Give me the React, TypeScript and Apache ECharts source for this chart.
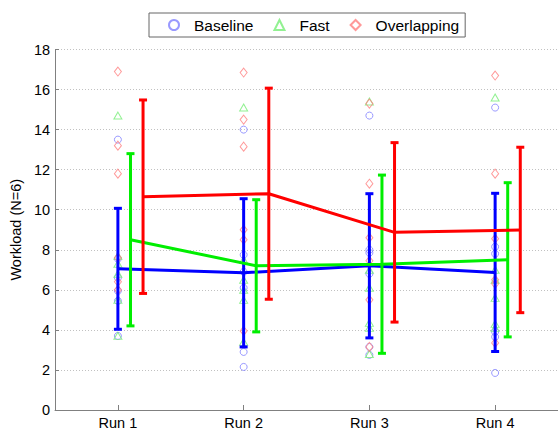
import React, { useEffect, useRef } from "react";
import * as echarts from "echarts";

const runs = ["Run 1", "Run 2", "Run 3", "Run 4"];
const seriesNames = ["Baseline", "Fast", "Overlapping"];

// individual subject values (N=6) per run
const baselinePoints = [
  [13.5, 7.55, 6.6, 5.95, 5.45, 3.7],
  [14.0, 7.75, 6.9, 6.1, 2.9, 2.15],
  [14.7, 8.0, 7.85, 6.8, 3.15, 2.75],
  [15.1, 8.15, 7.8, 3.9, 3.65, 1.85],
];
const fastPoints = [
  [14.7, 7.7, 7.3, 6.8, 5.5, 3.7],
  [15.1, 7.5, 6.5, 6.0, 5.5, 3.4],
  [15.4, 7.0, 6.1, 4.35, 4.1, 2.8],
  [15.6, 7.0, 6.5, 5.6, 4.3, 4.1],
];
const overlapPoints = [
  [16.9, 13.2, 11.8, 7.6, 6.4, 6.0],
  [16.85, 14.5, 13.15, 9.0, 8.5, 3.95],
  [15.3, 11.3, 8.6, 7.45, 5.5, 3.15],
  [16.7, 11.8, 8.55, 6.5, 6.3, 3.35],
];

// means and standard deviations
const baselineMean = [7.05, 6.85, 7.2, 6.87];
const baselineSd = [3.02, 3.7, 3.6, 3.95];
const fastMean = [8.5, 7.2, 7.28, 7.5];
const fastSd = [4.3, 3.3, 4.45, 3.85];
const overlapMean = [10.65, 10.8, 8.87, 8.99];
const overlapSd = [4.83, 5.27, 4.48, 4.13];

const offsets = [0, 0.1, 0.2];
const lineColors = ["#0000ff", "#00ee00", "#ff0000"];
const markerColors = ["#8080ff", "#77ee77", "#ff8080"];
const markerSymbols = ["circle", "triangle", "diamond"];
const markerSizes: any[] = [7, [8, 7], [7, 9]];

const FONT = "Liberation Sans, Arial, Helvetica, sans-serif";

export default function App() {
  const ref = useRef<HTMLDivElement>(null);
  useEffect(() => {
    if (!ref.current) return;
    const chart = echarts.init(ref.current, undefined, { renderer: "svg" });
    const allPoints = [baselinePoints, fastPoints, overlapPoints];
    const means = [baselineMean, fastMean, overlapMean];
    const sds = [baselineSd, fastSd, overlapSd];

    const series: any[] = [];
    seriesNames.forEach((name, i) => {
      const pts: number[][] = [];
      allPoints[i].forEach((vals, r) => vals.forEach((v) => pts.push([r + 1, v])));
      series.push({
        name,
        type: "scatter",
        xAxisIndex: 1,
        symbol: markerSymbols[i],
        symbolSize: markerSizes[i],
        itemStyle: { color: "rgba(0,0,0,0)", borderColor: markerColors[i], borderWidth: 1 },
        data: pts,
        z: 1,
      });
    });
    seriesNames.forEach((name, i) => {
      series.push({
        name: name + " mean",
        type: "line",
        xAxisIndex: 1,
        symbol: "none",
        lineStyle: { color: lineColors[i], width: 3 },
        itemStyle: { color: lineColors[i] },
        data: means[i].map((m, r) => [r + 1 + offsets[i], m]),
        z: 2 + i,
      });
      series.push({
        name: name + " sd",
        type: "custom",
        xAxisIndex: 1,
        encode: { x: 0, y: 1 },
        data: means[i].map((m, r) => [r + 1 + offsets[i], m, sds[i][r]]),
        z: 2 + i,
        renderItem: (params: any, api: any) => {
          const x = api.value(0);
          const m = api.value(1);
          const s = api.value(2);
          const top = api.coord([x, m + s]);
          const bot = api.coord([x, m - s]);
          const hw = 4;
          const st = { stroke: lineColors[i], lineWidth: 3 };
          return {
            type: "group",
            children: [
              { type: "line", shape: { x1: top[0], y1: top[1], x2: bot[0], y2: bot[1] }, style: st },
              { type: "line", shape: { x1: top[0] - hw, y1: top[1], x2: top[0] + hw, y2: top[1] }, style: st },
              { type: "line", shape: { x1: bot[0] - hw, y1: bot[1], x2: bot[0] + hw, y2: bot[1] }, style: st },
            ],
          };
        },
      });
    });

    chart.setOption({
      animation: false,
      backgroundColor: "#ffffff",
      textStyle: { fontFamily: FONT },
      grid: { left: 54, right: -2, top: 49.5, bottom: 20, containLabel: false },
      legend: {
        data: seriesNames.map((n, i) => ({ name: n, icon: markerSymbols[i] })),
        left: 149,
        top: 13,
        orient: "horizontal",
        selectedMode: false,
        itemWidth: 10,
        itemHeight: 10,
        itemGap: 20,
        padding: [4, 6, 4, 19],
        borderColor: "#666666",
        borderWidth: 1,
        backgroundColor: "#ffffff",
        textStyle: { fontFamily: FONT, fontSize: 15.5, color: "#000000", padding: [0, 0, 0, 10] },
      },
      xAxis: [
        {
          type: "category",
          data: runs,
          boundaryGap: true,
          axisLine: { show: true, lineStyle: { color: "#808080", width: 1 } },
          axisTick: { show: true, inside: true, alignWithLabel: true, length: 5, lineStyle: { color: "#808080" } },
          axisLabel: { fontFamily: FONT, fontSize: 14.5, color: "#000000", margin: 5 },
          splitLine: { show: false },
        },
        {
          type: "value",
          min: 0.5,
          max: 4.5,
          show: false,
          splitLine: { show: false },
        },
      ],
      yAxis: {
        type: "value",
        min: 0,
        max: 18,
        interval: 2,
        name: "Workload (N=6)",
        nameLocation: "middle",
        nameGap: 30,
        nameTextStyle: { fontFamily: FONT, fontSize: 14.5, color: "#000000" },
        axisLine: { show: true, lineStyle: { color: "#808080", width: 1 } },
        axisTick: { show: true, inside: true, length: 4, lineStyle: { color: "#808080" } },
        axisLabel: { fontFamily: FONT, fontSize: 14.5, color: "#000000", margin: 5 },
        splitLine: { show: true, lineStyle: { color: "#c0c0c0", type: [1, 2], width: 1 } },
      },
      series,
    });
    return () => chart.dispose();
  }, []);
  return (
    <div
      ref={ref}
      style={{ position: "fixed", left: 0, top: 0, width: 558, height: 430 }}
    />
  );
}
